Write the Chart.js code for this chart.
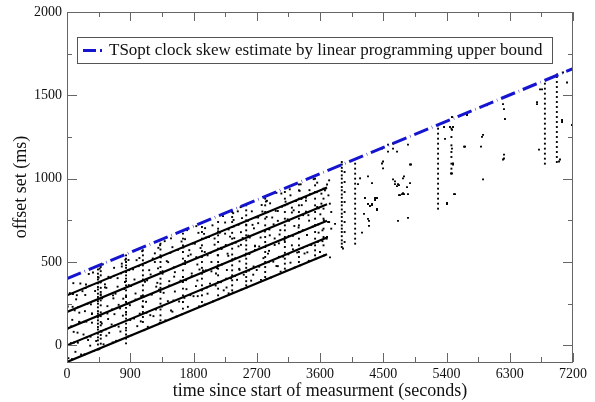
<!DOCTYPE html>
<html>
<head>
<meta charset="utf-8">
<script src="https://cdn.jsdelivr.net/npm/chart.js@4.4.1/dist/chart.umd.min.js"></script>
<style>
    html, body { margin: 0; padding: 0; background: #fff; }
    #wrap { width: 595px; height: 402px; }
</style>
</head>
<body>
<div id="wrap"><canvas id="skewChart" width="595" height="402"></canvas></div>
<script>
// Offset measurements vs time, with fitted lines and the LP upper bound

const xTicks = [0, 450, 900, 1350, 1800, 2250, 2700, 3150, 3600, 4050, 4500, 4950, 5400, 5850, 6300, 6750, 7200];
const yTicks = [0, 250, 500, 750, 1000, 1250, 1500, 1750, 2000];

// upper bound (blue dashed)
const boundTimes = [0, 7200];
const boundOffsets = [400, 1660];

// the five black parallel lines
const fitTimes = [0, 3700];
const fitStart = [-100, 0, 100, 200, 300];
const fitEnd = [547, 647, 747, 847, 947];

// vertical streaks of samples
const streakTimes = [440, 480, 840, 1080, 1330, 1650, 1920, 2150, 2350, 2550, 2820, 3100, 3300, 3530, 3650, 3910, 3950, 4100, 5280, 5470, 6800, 6970];
const streakOffsets = [
    [-25, 5, 30, 48, 70, 95, 110, 130, 150, 168, 190, 205, 228, 250, 265, 290, 310, 335, 350, 372, 395, 410, 430, 455, 475],
    [10, 40, 62, 85, 120, 140, 175, 198, 240, 270, 300, 320, 345, 380, 420, 445, 470],
    [12, 40, 65, 90, 105, 130, 160, 185, 200, 225, 260, 290, 300, 330, 360, 385, 400, 420, 440, 465, 480, 500, 520, 540],
    [140, 170, 200, 230, 265, 300, 330, 360, 395, 420, 450, 480, 510, 540, 570],
    [150, 180, 215, 250, 280, 320, 345, 370, 400, 440, 470, 500, 540, 575, 610],
    [220, 260, 300, 340, 380, 410, 450, 490, 520, 560, 600, 640, 670],
    [260, 300, 330, 360, 400, 430, 465, 500, 530, 565, 600, 640, 680, 710],
    [300, 340, 380, 420, 460, 500, 540, 580, 620, 660, 700, 740],
    [330, 360, 390, 420, 450, 480, 510, 545, 580, 610, 640, 675, 710, 740, 770, 800],
    [360, 385, 410, 440, 465, 490, 520, 550, 575, 600, 630, 660, 690, 720, 750, 780, 810, 840],
    [410, 440, 470, 500, 530, 560, 590, 620, 650, 690, 720, 760, 800, 840, 880],
    [460, 490, 520, 555, 590, 620, 650, 690, 720, 760, 800, 840, 880, 920],
    [500, 530, 560, 600, 640, 680, 720, 760, 800, 840, 880, 930, 965],
    [540, 570, 600, 640, 680, 720, 760, 800, 840, 880, 920, 960, 1000],
    [600, 650, 700, 760, 820, 880, 940],
    [590, 610, 630, 655, 680, 700, 720, 745, 770, 790, 815, 840, 860, 885, 905, 930, 950, 975, 1000, 1020, 1045, 1065, 1085, 1100],
    [620, 680, 740, 800, 860, 920, 980, 1040],
    [610, 640, 670, 700, 730, 760, 790, 820, 850, 880, 910, 940, 970, 1000, 1030, 1060, 1090],
    [820, 850, 880, 910, 940, 970, 1000, 1030, 1060, 1090, 1120, 1150, 1180, 1210, 1240, 1270, 1300, 1320],
    [1030, 1060, 1090, 1130, 1160, 1200, 1250, 1300],
    [1090, 1120, 1150, 1180, 1210, 1240, 1270, 1300, 1330, 1360, 1390, 1420, 1450, 1480, 1510, 1540, 1570],
    [1100, 1130, 1160, 1190, 1220, 1250, 1280, 1310, 1340, 1370, 1400, 1430, 1460, 1490, 1520, 1550, 1580, 1610]
];

// scattered samples in the first hour [time s, offset ms]
const denseSamples = [
    [20,-77],[55,13],[5,98],[75,153],[10,233],[40,313],[90,373],
    [120,-39],[155,16],[95,81],[175,141],[80,231],[140,301],[190,371],
    [200,-55],[235,65],[175,140],[255,205],[160,230],[220,325],[270,365],
    [300,32],[335,52],[275,142],[355,192],[260,302],[320,357],[370,437],
    [380,-34],[415,26],[355,136],[435,176],[340,246],[400,326],[450,406],
    [520,6],[555,96],[495,131],[575,191],[480,306],[540,366],[590,411],[510,486],
    [600,75],[635,125],[575,235],[655,300],[560,345],[620,405],[670,465],
    [700,27],[735,112],[675,187],[755,222],[660,282],[720,352],[770,432],
    [760,83],[795,178],[735,243],[815,338],[720,403],[780,473],[830,513],
    [920,61],[955,161],[895,241],[975,311],[880,361],[940,456],[990,511],
    [1000,115],[1035,190],[975,275],[1055,295],[960,395],[1020,475],[1070,565],
    [1150,111],[1185,181],[1125,261],[1205,306],[1110,381],[1170,451],[1220,521],
    [1230,175],[1265,215],[1205,305],[1285,375],[1190,425],[1250,500],[1300,585],
    [1400,150],[1435,265],[1375,315],[1455,385],[1360,445],[1420,505],[1470,555],[1390,625],
    [1480,209],[1515,269],[1455,359],[1535,439],[1440,499],[1500,589],
    [1560,173],[1595,263],[1535,323],[1615,388],[1520,468],[1580,573],[1630,623],
    [1720,231],[1755,301],[1695,391],[1775,431],[1680,506],[1740,571],[1790,611],[1710,691],
    [1800,295],[1835,355],[1775,415],[1855,485],[1760,545],[1820,610],[1870,675],
    [1880,234],[1915,334],[1855,389],[1935,449],[1840,529],[1900,584],[1950,669],
    [2000,310],[2035,370],[1975,450],[2055,500],[1960,560],[2020,650],[2070,720],
    [2080,264],[2115,359],[2055,444],[2135,464],[2040,554],[2100,604],[2150,684],
    [2230,330],[2265,400],[2205,485],[2285,550],[2190,585],[2250,670],[2300,695],[2220,775],
    [2300,312],[2335,402],[2275,452],[2355,517],[2260,602],[2320,652],[2370,752],
    [2420,393],[2455,453],[2395,523],[2475,603],[2380,643],[2440,723],[2490,763],
    [2480,334],[2515,424],[2455,504],[2535,539],[2440,594],[2500,644],[2550,724],[2470,829],
    [2620,388],[2655,473],[2595,548],[2675,598],[2580,658],[2640,723],[2690,768],
    [2700,452],[2735,472],[2675,572],[2755,647],[2660,702],[2720,767],[2770,842],
    [2760,393],[2795,523],[2735,593],[2815,683],[2720,733],[2780,803],[2830,863],
    [2900,407],[2935,502],[2875,567],[2955,602],[2860,697],[2920,767],[2970,807],[2890,852],
    [2980,476],[3015,531],[2955,641],[3035,691],[2940,726],[3000,806],[3050,911],
    [3040,442],[3075,532],[3015,612],[3095,632],[3000,747],[3060,832],[3110,862],
    [3180,496],[3215,576],[3155,656],[3235,716],[3140,756],[3200,826],[3250,866],[3170,936],
    [3240,467],[3275,557],[3215,657],[3295,707],[3200,797],[3260,867],[3310,927],
    [3380,551],[3415,596],[3355,691],[3435,781],[3340,841],[3400,886],[3450,931],
    [3440,507],[3475,602],[3415,662],[3495,712],[3400,802],[3460,907],[3510,997],
    [3600,560],[3635,625],[3575,725],[3655,750],[3560,830],[3620,910],[3670,930],
    [3660,540],[3695,640],[3635,690],[3715,740],[3620,850],[3680,940],[3730,990]
];

// samples sitting close to the five lines plus extra in-band ones
const nearLineSamples = [
    [70,-83],[100,17],[60,114],[110,210],[85,308],
    [250,-54],[280,47],[240,141],[290,249],[265,344],
    [460,-23],[490,81],[450,179],[500,282],[475,377],[465,460],
    [650,17],[680,118],[640,215],[690,310],[665,417],
    [870,53],[900,152],[860,248],[910,356],[885,451],[875,512],
    [1100,91],[1130,195],[1090,292],[1140,390],[1115,494],
    [1320,135],[1350,233],[1310,334],[1360,430],[1335,528],[1325,601],
    [1640,187],[1670,285],[1630,385],[1680,488],[1655,587],
    [1960,245],[1990,347],[1950,442],[2000,540],[1975,646],[1965,703],
    [2160,277],[2190,379],[2150,480],[2200,578],[2175,676],
    [2360,316],[2390,416],[2350,510],[2400,616],[2375,714],[2365,793],
    [2560,348],[2590,448],[2550,548],[2600,647],[2575,747],
    [2840,398],[2870,499],[2830,598],[2880,695],[2855,799],[2845,867],
    [3120,448],[3150,546],[3110,645],[3160,747],[3135,846],
    [3320,480],[3350,584],[3310,679],[3360,781],[3335,878],[3325,966],
    [3540,520],[3570,621],[3530,720],[3580,822],[3555,919],
    [150,76],[175,196],[130,276],[330,-2],[355,188],[310,428],
    [560,58],[585,158],[540,348],[800,280],[825,380],[780,490],
    [1050,144],[1075,234],[1030,524],[1270,352],[1295,462],[1250,552],
    [1500,202],[1525,412],[1480,642],[1700,337],[1725,537],[1680,637],
    [1860,295],[1885,455],[1840,715],[2120,431],[2145,541],[2100,641],
    [2270,347],[2295,537],[2250,737],[2450,459],[2475,679],[2430,804],
    [2650,424],[2675,594],[2630,804],[2860,550],[2885,660],[2840,770],
    [3000,475],[3025,665],[2980,915],[3200,600],[3225,810],[3180,900],
    [3420,558],[3445,748],[3400,868],[3580,676],[3605,786],[3560,976]
];

// scattered samples after the first hour
const sparseSamples = [
    [3700,965],[3720,900],[3740,850],[3760,800],[3730,740],[3760,700],[3700,650],[3814,729],[3742,528],[3927,581],
    [4170,1002],[4283,1014],[4141,967],[4240,884],[4283,848],[4340,842],[4411,812],[4383,884],
    [4297,747],[4297,717],[4283,759],[4198,676],[4226,789],[4311,836],
    [4482,1180],[4568,1162],[4639,1180],[4696,1162],[4852,1204],[4482,1091],[4497,1062],[4881,1085],
    [4568,1204],[4639,1210],[4895,1085],[4497,1103],
    [4340,973],[4639,996],[4667,967],[4710,967],[4781,1002],[4838,949],[4724,961],[4795,1014],
    [4411,884],[4383,872],[4738,901],[4781,913],[4724,901],[4795,907],[4767,907],[4852,907],
    [4340,848],[4411,818],[4710,747],[4852,765],[4667,984],[4696,955],[4881,973],
    [5407,848],[5407,854],[5478,1180],[5493,1091],[5478,1032],[5521,907],[5507,907],[5664,1192],[5493,1310],
    [5379,1239],[5365,1310],[5478,1370],[5493,1085],[5464,1032],[5450,1310],[5478,1293],
    [5692,1382],[5650,1192],[5905,1251],[5891,1192],[5920,996],[5977,1441],[5920,1263],
    [6204,1447],[6218,1417],[6232,1358],[6218,1144],[6204,1115],[6218,1121],
    [6688,1447],[6731,1536],[6716,1174],[6759,1536],[6688,1459],
    [7044,1340],[7058,1637],[7115,1577],[7186,1322],[7044,1352],[7001,1103],[7015,1115],[6973,1625]
];

function buildSamplePoints() {
    const pts = [];
    streakTimes.forEach((t, i) => {
        streakOffsets[i].forEach(v => pts.push({ x: t, y: v }));
    });
    denseSamples.concat(nearLineSamples, sparseSamples).forEach(p => pts.push({ x: p[0], y: p[1] }));
    return pts;
}

const serif = '"Liberation Serif", "DejaVu Serif", serif';

// frame, inward tick marks on all sides and the boxed legend inside the plot
const frameTicks = {
    id: 'frameTicks',
    afterDraw(chart) {
        const { ctx, chartArea: a, scales: { x, y } } = chart;
        ctx.save();
        ctx.strokeStyle = '#666';
        ctx.lineWidth = 1;
        ctx.strokeRect(a.left + 0.5, a.top + 0.5, a.right - a.left - 1, a.bottom - a.top);

        const seg = (x1, y1, x2, y2) => {
            ctx.beginPath();
            ctx.moveTo(x1, y1);
            ctx.lineTo(x2, y2);
            ctx.stroke();
        };
        x.ticks.forEach(t => {
            const px = Math.round(x.getPixelForValue(t.value)) + 0.5;
            const len = t.label !== '' ? 9 : 5;
            seg(px, a.bottom, px, a.bottom - len);
            seg(px, a.top, px, a.top + len);
        });
        y.ticks.forEach(t => {
            const py = Math.round(y.getPixelForValue(t.value)) + 0.5;
            const len = t.label !== '' ? 10 : 5;
            seg(a.left, py, a.left + len, py);
            seg(a.right, py, a.right - len, py);
        });

        // legend
        const lx = a.left + 10, ly = a.top + 25, lw = 475, lh = 26;
        ctx.fillStyle = '#fff';
        ctx.fillRect(lx, ly, lw, lh);
        ctx.strokeStyle = '#555';
        ctx.strokeRect(lx + 0.5, ly + 0.5, lw, lh);
        ctx.strokeStyle = '#1515d0';
        ctx.lineWidth = 3;
        seg(lx + 6, ly + 13.5, lx + 19, ly + 13.5);
        seg(lx + 23, ly + 13.5, lx + 25, ly + 13.5);
        ctx.fillStyle = '#111';
        ctx.font = '17px ' + serif;
        ctx.textBaseline = 'middle';
        ctx.fillText('TSopt clock skew estimate by linear programming upper bound', lx + 32, ly + 14);
        ctx.restore();
    }
};

document.addEventListener('DOMContentLoaded', () => {
    const ctx = document.getElementById('skewChart').getContext('2d');

    const datasets = [{
        label: 'TSopt clock skew estimate by linear programming upper bound',
        type: 'line',
        data: boundTimes.map((t, i) => ({ x: t, y: boundOffsets[i] })),
        borderColor: '#1515d0',
        borderWidth: 3,
        borderDash: [15, 4, 0.5, 4],
        pointRadius: 0,
        fill: false
    }];

    fitStart.forEach((s, i) => {
        datasets.push({
            label: 'fit ' + (i + 1),
            type: 'line',
            data: [{ x: fitTimes[0], y: s }, { x: fitTimes[1], y: fitEnd[i] }],
            borderColor: '#000',
            borderWidth: 2.2,
            pointRadius: 0,
            fill: false
        });
    });

    datasets.push({
        label: 'offset samples',
        data: buildSamplePoints(),
        showLine: false,
        pointStyle: 'rect',
        pointRadius: 1.35,
        pointBorderWidth: 0,
        pointBackgroundColor: '#000',
        backgroundColor: '#000'
    });

    new Chart(ctx, {
        type: 'scatter',
        data: { datasets },
        options: {
            responsive: false,
            animation: false,
            layout: { padding: { top: 2, right: 22, left: 0, bottom: 0 } },
            plugins: {
                legend: { display: false },
                tooltip: { enabled: false }
            },
            scales: {
                x: {
                    type: 'linear',
                    min: 0,
                    max: 7200,
                    afterBuildTicks: s => { s.ticks = xTicks.map(v => ({ value: v })); },
                    afterFit: s => { s.height = 40; },
                    grid: { display: false, drawTicks: false },
                    border: { display: false },
                    ticks: {
                        autoSkip: false,
                        maxRotation: 0,
                        padding: 4,
                        color: '#111',
                        font: { family: serif, size: 14 },
                        callback: v => (v % 900 === 0 ? String(v) : '')
                    },
                    title: {
                        display: true,
                        text: 'time since start of measurment (seconds)',
                        color: '#111',
                        font: { family: serif, size: 18 },
                        padding: { top: 0, bottom: 0 }
                    }
                },
                y: {
                    type: 'linear',
                    min: -100,
                    max: 2000,
                    afterBuildTicks: s => { s.ticks = yTicks.map(v => ({ value: v })); },
                    afterFit: s => { s.width = 67; },
                    grid: { display: false, drawTicks: false },
                    border: { display: false },
                    ticks: {
                        autoSkip: false,
                        padding: 5,
                        color: '#111',
                        font: { family: serif, size: 14, lineHeight: 1 },
                        callback: v => (v % 500 === 0 ? String(v) : '')
                    },
                    title: {
                        display: true,
                        text: 'offset set (ms)',
                        color: '#111',
                        font: { family: serif, size: 18 },
                        padding: { top: 10, bottom: 0 }
                    }
                }
            }
        },
        plugins: [frameTicks]
    });
});
</script>
</body>
</html>
